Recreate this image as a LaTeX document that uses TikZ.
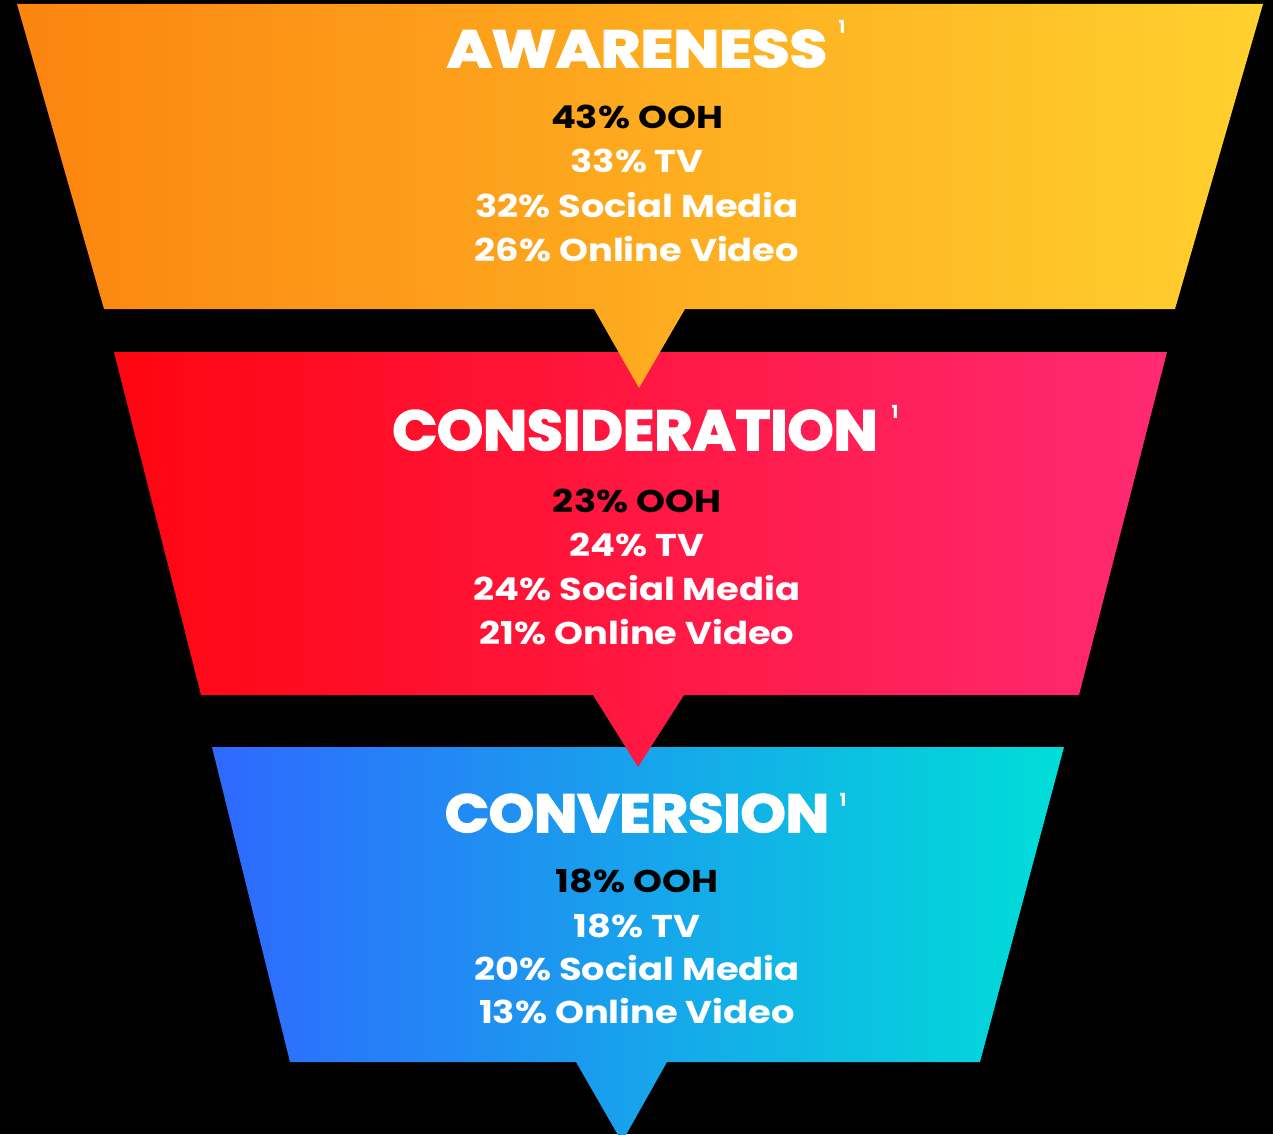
\documentclass[tikz,border=0pt]{standalone}
\usepackage{fontspec}
\usepackage{graphicx}
\setmainfont{Poppins}
\newfontfamily\titlefont[BoldFeatures={FakeBold=3}]{Poppins}
\newfontfamily\bodyfont[FakeStretch=1.17]{Poppins}
\definecolor{awL}{RGB}{252,132,16}
\definecolor{awR}{RGB}{255,209,46}
\definecolor{coL}{RGB}{255,5,16}
\definecolor{coR}{RGB}{255,42,115}
\definecolor{cvL}{RGB}{47,104,255}
\definecolor{cvR}{RGB}{0,222,216}
\tikzset{
  title/.style={anchor=base, inner sep=0pt, text=white},
  body/.style={anchor=base, inner sep=0pt, text=white, font=\bodyfont\bfseries\fontsize{31.5}{32}\selectfont},
  first/.style={body, text=black},
  supnum/.style={anchor=base, inner sep=0pt, text=white, font=\bfseries\fontsize{18}{18}\selectfont},
}
\begin{document}
\begin{tikzpicture}[x=1pt,y=-1pt]
\fill[black] (0,0) rectangle (1273,1134);
\useasboundingbox (0,0) rectangle (1273,1134);
% Conversion (drawn first so the pointers above lie over it)
\shade[left color=cvL, right color=cvR]
  (212,747) -- (1064,747) -- (980,1062) -- (667,1062) -- (622,1142) -- (576,1062) -- (290,1062) -- cycle;
% Consideration
\shade[left color=coL, right color=coR]
  (114,352) -- (1167,352) -- (1079,695) -- (684,695) -- (638,767) -- (593,695) -- (201,695) -- cycle;
% Awareness
\shade[left color=awL, right color=awR]
  (17,4) -- (1263,4) -- (1175,309) -- (685,309) -- (639,388) -- (594,309) -- (104,309) -- cycle;

% Texts: awareness
\node[title] (t1) at (637,67) {\resizebox{380pt}{37pt}{\titlefont\bfseries AWARENESS}};
\node[supnum] (s1) at (842,34) {1};
\node[first] (a1) at (637,129) {43\% OOH};
\node[body] (a2) at (637,173) {33\% TV};
\node[body] (a3) at (637,217) {32\% Social Media};
\node[body] (a4) at (637,261) {26\% Online Video};

% consideration
\node[title] (t2) at (635,450) {\resizebox{485pt}{40pt}{\titlefont\bfseries CONSIDERATION}};
\node[supnum] (s2) at (895,418) {1};
\node[first] (b1) at (637,512) {23\% OOH};
\node[body] (b2) at (637,556) {24\% TV};
\node[body] (b3) at (637,600) {24\% Social Media};
\node[body] (b4) at (637,644) {21\% Online Video};

% conversion
\node[title] (t3) at (637,832) {\resizebox{384pt}{38pt}{\titlefont\bfseries CONVERSION}};
\node[supnum] (s3) at (843,806) {1};
\node[first] (c1) at (637,892) {18\% OOH};
\node[body] (c2) at (637,937) {18\% TV};
\node[body] (c3) at (637,980) {20\% Social Media};
\node[body] (c4) at (637,1023) {13\% Online Video};
\end{tikzpicture}
\end{document}
